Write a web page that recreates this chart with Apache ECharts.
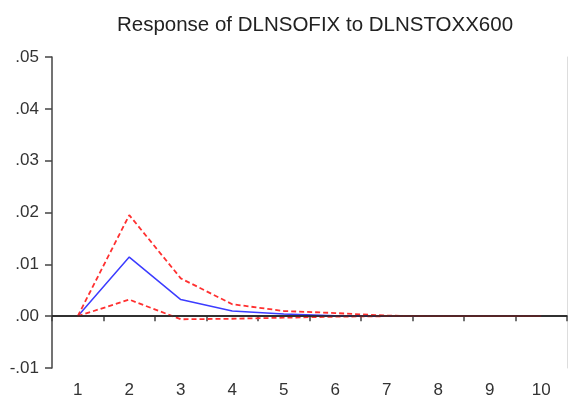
<!DOCTYPE html>
<html>
<head>
<meta charset="utf-8">
<script src="https://cdn.jsdelivr.net/npm/echarts@6/dist/echarts.min.js"></script>
<style>
  html, body { margin: 0; padding: 0; background: #fff; }
  #chart { width: 568px; height: 401px; }
</style>
</head>
<body>
<div id="chart"></div>
<script>
// periods after the shock
var periods = ['1', '2', '3', '4', '5', '6', '7', '8', '9', '10'];
// impulse response (blue) and the +/- 2 s.e. bands (red dashed)
var response = [0, 0.0114, 0.0032, 0.0010, 0.0004, 0.0001, 0.0000, 0, 0, 0];
var upperBand = [0, 0.0195, 0.0073, 0.0023, 0.0010, 0.0006, 0.0001, 0, 0, 0];
var lowerBand = [0, 0.0032, -0.0006, -0.0005, -0.0003, -0.0001, 0.0000, 0, 0, 0];

var myChart = echarts.init(document.getElementById('chart'));
var labelFont = { fontFamily: 'Liberation Sans, Arial, sans-serif', fontSize: 17, color: '#333' };

var option = {
    animation: false,
    title: {
        text: 'Response of DLNSOFIX to DLNSTOXX600',
        left: 310,
        textAlign: 'center',
        top: 10,
        textStyle: { fontFamily: 'Liberation Sans, Arial, sans-serif', fontSize: 20.5, fontWeight: 'normal', color: '#222' }
    },
    grid: { left: 52, right: 1, top: 57, bottom: 33 },
    xAxis: [{
        type: 'category',
        data: periods,
        boundaryGap: true,
        axisLine: { lineStyle: { color: '#444', width: 1.5 } },
        axisTick: { show: true, length: 5, alignWithLabel: false, lineStyle: { color: '#444', width: 1.5 } },
        axisLabel: Object.assign({ margin: 14, interval: 0 }, labelFont),
        splitLine: { show: false }
    }, {
        // top frame line
        type: 'category',
        data: periods,
        position: 'top',
        axisLine: { lineStyle: { color: '#555', width: 1.5 } },
        axisTick: { show: false },
        axisLabel: { show: false }
    }],
    yAxis: [{
        type: 'value',
        min: -0.01,
        max: 0.05,
        interval: 0.01,
        axisLine: { show: true, lineStyle: { color: '#444', width: 1.5 } },
        axisTick: { show: true, length: 7, lineStyle: { color: '#444', width: 1.5 } },
        axisLabel: Object.assign({
            margin: 13,
            formatter: function (v) { return v.toFixed(2).replace('0.', '.'); }
        }, labelFont),
        splitLine: { show: false }
    }, {
        // right frame line
        type: 'value',
        min: -0.01,
        max: 0.05,
        position: 'right',
        axisLine: { show: true, lineStyle: { color: '#ddd', width: 1 } },
        axisTick: { show: false },
        axisLabel: { show: false },
        splitLine: { show: false }
    }],
    series: [{
        name: 'response',
        type: 'line',
        data: response,
        symbol: 'none',
        lineStyle: { color: '#3c3cff', width: 1.5 },
        markLine: {
            silent: true,
            symbol: 'none',
            label: { show: false },
            lineStyle: { color: '#222', type: 'solid', width: 1.5 },
            data: [{ yAxis: 0 }]
        },
        z: 3
    }, {
        name: 'upper',
        type: 'line',
        data: upperBand,
        symbol: 'none',
        lineStyle: { color: '#ff3030', width: 1.8, type: [5, 3] },
        z: 4
    }, {
        name: 'lower',
        type: 'line',
        data: lowerBand,
        symbol: 'none',
        lineStyle: { color: '#ff3030', width: 1.8, type: [5, 3] },
        z: 4
    }]
};

option && myChart.setOption(option);
</script>
</body>
</html>
